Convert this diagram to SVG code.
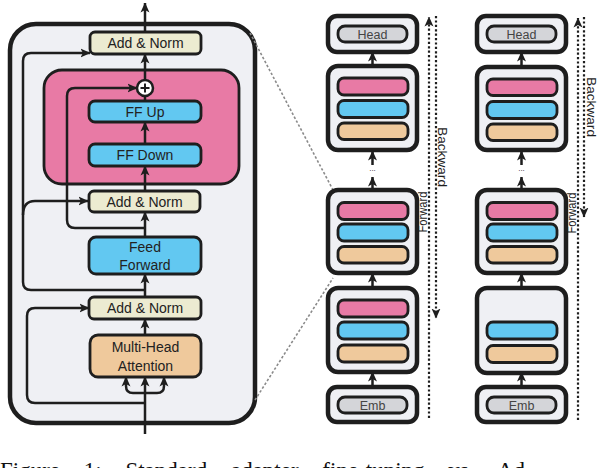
<svg xmlns="http://www.w3.org/2000/svg" width="598" height="468" viewBox="0 0 598 468">
<defs>
<marker id="ah" viewBox="0 0 10 10" refX="9.5" refY="5" markerWidth="10" markerHeight="10" markerUnits="userSpaceOnUse" orient="auto">
<path d="M0,0.5 L10,5 L0,9.5 L2.5,5 z" fill="#1e1e1e"/>
</marker>
<style>
.lbl{font-family:"Liberation Sans",Arial,sans-serif;font-size:14px;fill:#222;text-anchor:middle}
.sl{font-family:"Liberation Sans",Arial,sans-serif;font-size:12.5px;fill:#444;text-anchor:middle}
.panel{fill:#eff0f4;stroke:#1e1e1e;stroke-width:4.5}
.box{stroke:#1e1e1e;stroke-width:2.8}
.beige{fill:#ecebd1}
.blue{fill:#62c8f1}
.pink{fill:#e87aa5}
.peach{fill:#efc99c}
.gray{fill:#d4d5d9}
.outer{fill:#eff0f4;stroke:#1e1e1e;stroke-width:4.5}
.ln{fill:none;stroke:#1e1e1e;stroke-width:2.5}
.arr{fill:none;stroke:#1e1e1e;stroke-width:2.5;marker-end:url(#ah)}
.dot{fill:none;stroke:#1e1e1e;stroke-width:2.2;stroke-dasharray:2.2 2.2;marker-end:url(#ah)}
.zoomln{fill:none;stroke:#8a8a8a;stroke-width:1.6;stroke-dasharray:2.5 2}
.rot{font-family:"Liberation Sans",Arial,sans-serif;font-size:12.5px;fill:#1e1e1e;text-anchor:middle}
</style>
</defs>

<!-- Left detailed panel -->
<g id="panel">
<rect class="panel" x="10" y="24" width="245" height="399" rx="26"/>
</g>
<g id="adapter">
<rect class="box pink" x="44" y="70" width="195" height="114" rx="18"/>
</g>

<g id="connectors">
<!-- trunk -->
<line class="arr" x1="145" y1="32" x2="145" y2="3"/>
<line class="arr" x1="145" y1="80" x2="145" y2="54"/>
<line class="ln" x1="145" y1="101" x2="145" y2="96"/>
<line class="arr" x1="145" y1="144" x2="145" y2="122"/>
<line class="arr" x1="145" y1="191" x2="145" y2="166"/>
<line class="arr" x1="145" y1="237" x2="145" y2="212"/>
<line class="arr" x1="145" y1="297" x2="145" y2="274"/>
<line class="arr" x1="145" y1="335" x2="145" y2="319"/>
<line class="arr" x1="145" y1="434" x2="145" y2="377"/>
<!-- trident -->
<path class="arr" d="M145,393 L133,393 Q126,393 126,386 L126,377"/>
<path class="arr" d="M145,393 L157,393 Q164,393 164,386 L164,377"/>
<!-- skips -->
<path class="arr" d="M145,228 L75,228 Q67,228 67,220 L67,96 Q67,88 75,88 L137,88"/>
<path class="arr" d="M145,290 L31,290 Q23,290 23,282 L23,61 Q23,53 31,53 L90,53"/>
<path class="arr" d="M23,215 Q23,201 35,201 L88,201"/>
<path class="arr" d="M145,403 L35,403 Q27,403 27,395 L27,316 Q27,308 35,308 L89,308"/>
<!-- zoom lines -->
<line class="zoomln" x1="250" y1="33" x2="333" y2="190"/>
<line class="zoomln" x1="255" y1="400" x2="333" y2="278"/>
<!-- stack A arrows -->
<line class="arr" x1="372.5" y1="387" x2="372.5" y2="372"/>
<line class="arr" x1="372.5" y1="288" x2="372.5" y2="273"/>
<line class="arr" x1="372.5" y1="190" x2="372.5" y2="177"/>
<line class="arr" x1="372.5" y1="165" x2="372.5" y2="151"/>
<line class="arr" x1="372.5" y1="66" x2="372.5" y2="52"/>
<!-- stack B arrows -->
<line class="arr" x1="521.5" y1="387" x2="521.5" y2="372"/>
<line class="arr" x1="521.5" y1="288" x2="521.5" y2="273"/>
<line class="arr" x1="521.5" y1="190" x2="521.5" y2="177"/>
<line class="arr" x1="521.5" y1="165" x2="521.5" y2="151"/>
<line class="arr" x1="521.5" y1="66" x2="521.5" y2="52"/>
<!-- forward/backward -->
<line class="dot" x1="429" y1="418" x2="429" y2="17"/>
<line class="dot" x1="436" y1="16" x2="436" y2="318"/>
<line class="dot" x1="578" y1="420" x2="578" y2="18"/>
<line class="dot" x1="584" y1="17" x2="584" y2="217"/>
</g>

<g id="add-norm-1">
<rect class="box beige" x="90" y="32" width="111" height="22" rx="5"/>
<text class="lbl" x="145.5" y="48">Add &amp; Norm</text>
</g>
<g id="plus">
<circle cx="145" cy="88" r="8" fill="#fff" stroke="#1e1e1e" stroke-width="2.5"/>
<path d="M140.5,88 H149.5 M145,83.5 V92.5" stroke="#1e1e1e" stroke-width="2"/>
</g>
<g id="ff-up">
<rect class="box blue" x="89" y="101" width="112" height="21" rx="6"/>
<text class="lbl" x="145" y="116.5">FF Up</text>
</g>
<g id="ff-down">
<rect class="box blue" x="89" y="144" width="112" height="22" rx="6"/>
<text class="lbl" x="145" y="160">FF Down</text>
</g>
<g id="add-norm-2">
<rect class="box beige" x="89" y="191" width="111" height="21" rx="5"/>
<text class="lbl" x="144.5" y="206.5">Add &amp; Norm</text>
</g>
<g id="feed-forward">
<rect class="box blue" x="89" y="237" width="112" height="37" rx="7"/>
<text class="lbl" x="145" y="252">Feed</text>
<text class="lbl" x="145" y="270">Forward</text>
</g>
<g id="add-norm-3">
<rect class="box beige" x="89" y="297" width="112" height="22" rx="5"/>
<text class="lbl" x="145" y="313">Add &amp; Norm</text>
</g>
<g id="mha">
<rect class="box peach" x="90" y="335" width="111" height="42" rx="8"/>
<text class="lbl" x="145.5" y="352">Multi-Head</text>
<text class="lbl" x="145.5" y="371">Attention</text>
</g>

<!-- Stack A -->
<g id="a-head">
<rect class="outer" x="328" y="16" width="89" height="36" rx="9"/>
<rect class="box gray" x="338" y="26" width="69" height="16" rx="7"/>
<text class="sl" x="372.5" y="38.5">Head</text>
</g>
<g id="a-block1">
<rect class="outer" x="328" y="66" width="89" height="84" rx="10"/>
<rect class="box pink" x="338" y="78" width="70" height="17" rx="6"/>
<rect class="box blue" x="338" y="100.5" width="70" height="17" rx="6"/>
<rect class="box peach" x="338" y="123" width="70" height="16.5" rx="6"/>
</g>
<text class="sl" x="372.5" y="171" style="font-size:8px;fill:#1e1e1e">...</text>
<g id="a-block2">
<rect class="outer" x="328" y="190" width="89" height="83" rx="10"/>
<rect class="box pink" x="338" y="202.5" width="70" height="17" rx="6"/>
<rect class="box blue" x="338" y="224" width="70" height="17" rx="6"/>
<rect class="box peach" x="338" y="246.5" width="70" height="16.5" rx="6"/>
</g>
<g id="a-block3">
<rect class="outer" x="328" y="288" width="89" height="84" rx="10"/>
<rect class="box pink" x="338" y="300" width="70" height="17" rx="6"/>
<rect class="box blue" x="338" y="322" width="70" height="17" rx="6"/>
<rect class="box peach" x="338" y="345" width="70" height="17" rx="6"/>
</g>
<g id="a-emb">
<rect class="outer" x="328" y="387" width="89" height="35" rx="9"/>
<rect class="box gray" x="338" y="397" width="69" height="16" rx="7"/>
<text class="sl" x="372.5" y="409.5">Emb</text>
</g>
<text class="rot" transform="translate(438,157) rotate(90)" textLength="60" lengthAdjust="spacingAndGlyphs">Backward</text>
<text class="rot" transform="translate(427,212) rotate(-90)" textLength="41" lengthAdjust="spacingAndGlyphs">Forward</text>

<!-- Stack B -->
<g id="b-head">
<rect class="outer" x="477" y="16" width="89" height="36" rx="9"/>
<rect class="box gray" x="487" y="26" width="69" height="16" rx="7"/>
<text class="sl" x="521.5" y="38.5">Head</text>
</g>
<g id="b-block1">
<rect class="outer" x="477" y="67" width="89" height="83" rx="10"/>
<rect class="box pink" x="487" y="79" width="70" height="16.5" rx="6"/>
<rect class="box blue" x="487" y="101.5" width="70" height="17" rx="6"/>
<rect class="box peach" x="487" y="124" width="70" height="16.5" rx="6"/>
</g>
<text class="sl" x="521.5" y="171" style="font-size:8px;fill:#1e1e1e">...</text>
<g id="b-block2">
<rect class="outer" x="477" y="190" width="89" height="83" rx="10"/>
<rect class="box pink" x="487" y="202.5" width="70" height="17" rx="6"/>
<rect class="box blue" x="487" y="224" width="70" height="17" rx="6"/>
<rect class="box peach" x="487" y="246.5" width="70" height="16.5" rx="6"/>
</g>
<g id="b-block3">
<rect class="outer" x="477" y="288" width="89" height="85" rx="10"/>
<rect class="box blue" x="487" y="322" width="70" height="17" rx="6"/>
<rect class="box peach" x="487" y="345.5" width="70" height="17" rx="6"/>
</g>
<g id="b-emb">
<rect class="outer" x="477" y="387" width="89" height="35" rx="9"/>
<rect class="box gray" x="487" y="397" width="69" height="16" rx="7"/>
<text class="sl" x="521.5" y="409.5">Emb</text>
</g>
<text class="rot" transform="translate(587,107) rotate(90)" textLength="60" lengthAdjust="spacingAndGlyphs">Backward</text>
<text class="rot" transform="translate(575.5,213) rotate(-90)" textLength="41" lengthAdjust="spacingAndGlyphs">Forward</text>

<!-- partially visible caption (cut off by the frame, as in the reference) -->
<text x="0" y="478" style="font-family:'Liberation Serif','Times New Roman',serif;font-size:23px;fill:#111;word-spacing:18px">Figure 1: Standard adapter fine-tuning vs. Ad</text>
</svg>
